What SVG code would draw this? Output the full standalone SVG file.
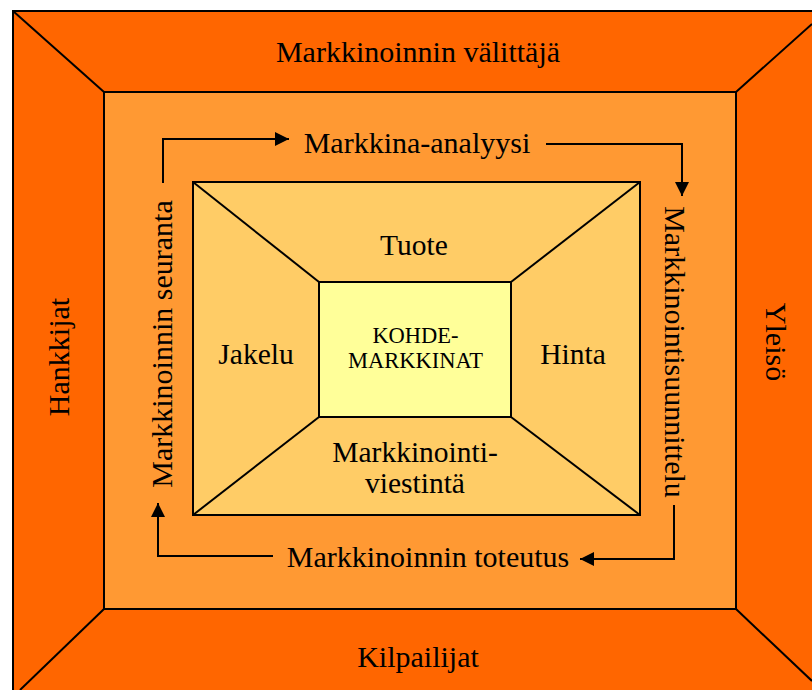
<svg xmlns="http://www.w3.org/2000/svg" width="812" height="690" viewBox="0 0 812 690">
<style>
.ln{stroke:#000;stroke-width:2;fill:none}
.t{font-family:"Liberation Serif","Times New Roman",serif;font-size:30px;fill:#000;text-anchor:middle}
.i{font-family:"Liberation Serif","Times New Roman",serif;font-size:29.5px;fill:#000;text-anchor:middle}
.s{font-family:"Liberation Serif","Times New Roman",serif;font-size:22.5px;fill:#000;text-anchor:middle}
</style>
<defs>
<marker id="ah" viewBox="0 0 10 10" refX="10" refY="5" markerWidth="14" markerHeight="14" markerUnits="userSpaceOnUse" orient="auto"><path d="M0,0 L10,5 L0,10 Z" fill="#000"/></marker>
</defs>
<rect width="812" height="690" fill="#fff"/>
<g id="outer">
<rect x="13" y="11" width="814" height="690" fill="#FF6600" stroke="#000" stroke-width="2"/>
<line class="ln" x1="13" y1="11" x2="104" y2="92"/>
<line class="ln" x1="736" y1="92" x2="812" y2="24"/>
<line class="ln" x1="104" y1="609" x2="20" y2="690"/>
<line class="ln" x1="736" y1="609" x2="812" y2="681"/>
<text class="t" x="418" y="62">Markkinoinnin välittäjä</text>
<text class="t" x="418" y="667">Kilpailijat</text>
<text class="t" transform="translate(69,357) rotate(-90)">Hankkijat</text>
<text class="t" transform="translate(766,342) rotate(90)">Yleisö</text>
</g>
<g id="middle">
<rect x="104" y="92" width="632" height="517" fill="#FF9933" stroke="#000" stroke-width="2"/>
<text class="t" x="417" y="153">Markkina-analyysi</text>
<text class="t" x="428" y="567">Markkinoinnin toteutus</text>
<text class="t" transform="translate(172,344) rotate(-90)">Markkinoinnin seuranta</text>
<text class="t" transform="translate(665,352) rotate(90)">Markkinointisuunnittelu</text>
</g>
<g id="inner">
<rect x="193" y="182" width="447" height="333" fill="#FFCC66" stroke="#000" stroke-width="2"/>
<line class="ln" x1="193" y1="182" x2="319" y2="282"/>
<line class="ln" x1="640" y1="182" x2="511" y2="282"/>
<line class="ln" x1="193" y1="515" x2="319" y2="417"/>
<line class="ln" x1="640" y1="515" x2="511" y2="417"/>
<text class="i" x="414" y="255">Tuote</text>
<text class="i" x="256" y="364">Jakelu</text>
<text class="i" x="573" y="364">Hinta</text>
<text class="i" x="415" y="462">Markkinointi-</text>
<text class="i" x="415" y="493">viestintä</text>
</g>
<g id="center">
<rect x="319" y="282" width="192" height="135" fill="#FFFF99" stroke="#000" stroke-width="2"/>
<text class="s" x="415.5" y="343">KOHDE-</text>
<text class="s" x="415.5" y="368">MARKKINAT</text>
</g>
<g id="connectors">
<path class="ln" d="M163,183 V139 H289" marker-end="url(#ah)"/>
<path class="ln" d="M546,144 H682 V196" marker-end="url(#ah)"/>
<path class="ln" d="M674,505 V559 H580" marker-end="url(#ah)"/>
<path class="ln" d="M273,556 H158 V503" marker-end="url(#ah)"/>
</g>
</svg>
